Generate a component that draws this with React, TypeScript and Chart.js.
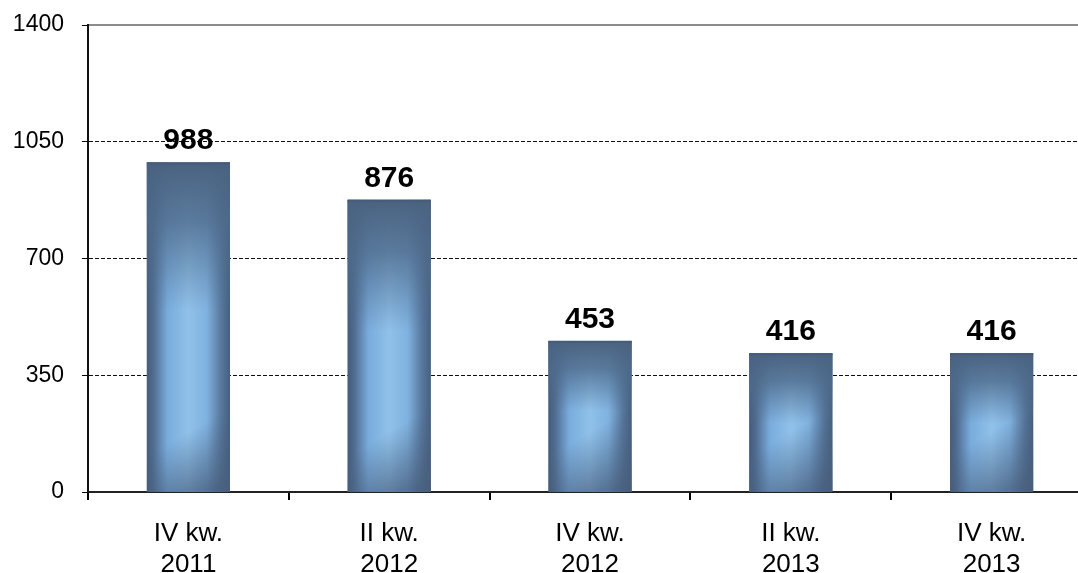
import { useEffect, useRef } from 'react';
import { Chart, registerables } from 'chart.js';

Chart.register(...registerables);

const categories: string[][] = [
  ['IV kw.', '2011'],
  ['II kw.', '2012'],
  ['IV kw.', '2012'],
  ['II kw.', '2013'],
  ['IV kw.', '2013'],
];
const values: number[] = [988, 876, 453, 416, 416];
const yMin = 0;
const yMax = 1400;
const yStep = 350;

const FONT = "'Liberation Sans', Arial, sans-serif";

const shadePlugin = {
  id: 'barShade',
  afterDatasetDraw(chart: any, args: any) {
    const meta = chart.getDatasetMeta(args.index);
    const ctx: CanvasRenderingContext2D = chart.ctx;
    meta.data.forEach((el: any) => {
      const { x, y, base, width } = el.getProps(['x', 'y', 'base', 'width'], true);
      const l = x - width / 2;
      const r = x + width / 2;
      const h = base - y;
      ctx.save();
      const g = ctx.createLinearGradient(l, 0, r, 0);
      g.addColorStop(0, '#465c7a');
      g.addColorStop(0.08, '#506c90');
      g.addColorStop(0.25, '#79acdc');
      g.addColorStop(0.5, '#90c1e9');
      g.addColorStop(0.72, '#80b2e0');
      g.addColorStop(0.9, '#56769c');
      g.addColorStop(1, '#46607e');
      ctx.fillStyle = g;
      ctx.fillRect(l, y, width, h);
      // top darkening
      const v = ctx.createLinearGradient(0, y, 0, y + Math.max(h * 0.45, 70));
      v.addColorStop(0, 'rgba(74,98,128,1)');
      v.addColorStop(0.4, 'rgba(78,106,138,0.8)');
      v.addColorStop(1, 'rgba(80,108,140,0)');
      ctx.fillStyle = v;
      ctx.fillRect(l, y, width, h);
      // bottom-right diagonal shadow
      const d = ctx.createLinearGradient(r, base, r - width * 0.45, base - width * 0.75);
      d.addColorStop(0, 'rgba(72,94,124,0.95)');
      d.addColorStop(1, 'rgba(72,94,124,0)');
      ctx.fillStyle = d;
      ctx.fillRect(l, y, width, h);
      // thin top edge
      ctx.fillStyle = 'rgba(70,92,120,1)';
      ctx.fillRect(l, y, width, 2);
      ctx.restore();
    });
  },
};

const labelPlugin = {
  id: 'valueLabels',
  afterDatasetsDraw(chart: any) {
    const ctx: CanvasRenderingContext2D = chart.ctx;
    const meta = chart.getDatasetMeta(0);
    const data = chart.data.datasets[0].data as number[];
    ctx.save();
    ctx.font = `bold 30px ${FONT}`;
    ctx.fillStyle = '#000';
    ctx.textAlign = 'center';
    ctx.textBaseline = 'alphabetic';
    meta.data.forEach((el: any, i: number) => {
      ctx.fillText(String(data[i]), el.x, el.y - 13);
    });
    ctx.restore();
  },
};

export default function App() {
  const ref = useRef<HTMLCanvasElement | null>(null);
  useEffect(() => {
    if (!ref.current) return;
    const chart = new Chart(ref.current, {
      type: 'bar',
      data: {
        labels: categories,
        datasets: [
          {
            data: values,
            backgroundColor: '#6f9cc8',
            borderWidth: 0,
            categoryPercentage: 1,
            barPercentage: 0.414,
            xAxisID: 'x',
            yAxisID: 'y',
          },
        ],
      },
      options: {
        animation: false,
        responsive: true,
        maintainAspectRatio: false,
        layout: { padding: { top: 25, right: 0, left: 0, bottom: 0 } },
        plugins: { legend: { display: false }, tooltip: { enabled: false } },
        scales: {
          x: {
            type: 'category',
            position: 'bottom',
            grid: {
              display: true,
              offset: true,
              drawOnChartArea: false,
              drawTicks: true,
              tickLength: 8,
              color: '#000',
              tickColor: '#000',
              lineWidth: 2,
            },
            border: { display: true, color: '#222', width: 2 },
            ticks: {
              color: '#000',
              font: { family: FONT, size: 26, lineHeight: 1.17 },
              padding: 19,
              maxRotation: 0,
              autoSkip: false,
            },
            afterFit: (s: any) => {
              s.height = 81;
              s.paddingLeft = 0;
              s.paddingRight = 0;
            },
          },
          x2: {
            type: 'category',
            position: 'top',
            labels: categories.map((c) => c.join(' ')),
            grid: { display: false, drawTicks: false },
            ticks: { display: false },
            border: { display: true, color: '#8c8c8c', width: 2 },
            afterFit: (s: any) => {
              s.height = 0;
              s.paddingLeft = 0;
              s.paddingRight = 0;
            },
          },
          y: {
            min: yMin,
            max: yMax,
            position: 'left',
            ticks: {
              stepSize: yStep,
              color: '#000',
              font: { family: FONT, size: 23 },
              padding: 18,
              callback: (v: any) => String(v),
            },
            grid: {
              color: (c: any) => (c.tick && c.tick.value === yMax ? 'rgba(0,0,0,0)' : '#111'),
              tickColor: '#000',
              tickLength: 6,
              lineWidth: 1,
            },
            border: { display: true, color: '#111', width: 2, dash: [4, 2] },
            afterFit: (s: any) => {
              s.width = 88;
              s.paddingTop = 0;
              s.paddingBottom = 0;
            },
          },
        },
      },
      plugins: [shadePlugin, labelPlugin],
    });
    return () => chart.destroy();
  }, []);
  return (
    <div
      style={{
        position: 'fixed',
        left: 0,
        top: 0,
        width: 1078,
        height: 573,
        overflow: 'hidden',
        background: '#fff',
      }}
    >
      <div style={{ position: 'relative', width: 1092, height: 573 }}>
        <canvas ref={ref} />
      </div>
    </div>
  );
}
